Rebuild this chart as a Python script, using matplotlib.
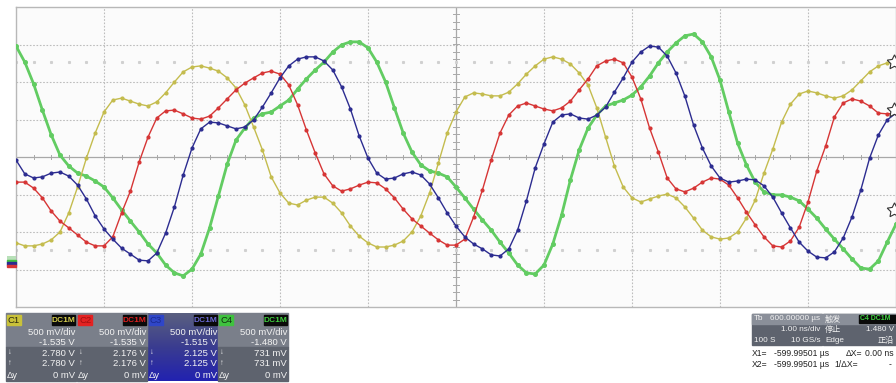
import numpy as np
import matplotlib
matplotlib.use("Agg")
import matplotlib.pyplot as plt
from matplotlib.patches import Rectangle
from matplotlib.colors import LinearSegmentedColormap

plt.rcParams['font.family'] = ['Liberation Sans', 'Noto Sans CJK SC', 'DejaVu Sans']

# ---- data: 10 GS/s, 1 ns/div, 101 samples, values in screen divisions ----
time_ns = np.round(np.arange(101) * 0.1 - 5.0, 1)

c1_div = [-2.29, -2.37, -2.37, -2.32, -2.21, -2.00, -1.49, -0.80, -0.03, 0.64,
          1.20, 1.52, 1.57, 1.49, 1.41, 1.36, 1.47, 1.71, 2.00, 2.27,
          2.40, 2.43, 2.37, 2.29, 2.11, 1.84, 1.39, 0.80, 0.19, -0.53,
          -0.96, -1.23, -1.28, -1.15, -1.07, -1.07, -1.23, -1.49, -1.84, -2.11,
          -2.29, -2.40, -2.40, -2.35, -2.24, -2.00, -1.57, -0.96, -0.16, 0.64,
          1.20, 1.60, 1.71, 1.68, 1.63, 1.63, 1.73, 1.95, 2.21, 2.43,
          2.61, 2.67, 2.61, 2.48, 2.24, 1.92, 1.31, 0.53, -0.24, -0.80,
          -1.09, -1.20, -1.12, -1.04, -0.99, -1.09, -1.33, -1.63, -1.95, -2.13,
          -2.19, -2.16, -2.00, -1.63, -1.15, -0.43, 0.21, 0.93, 1.41, 1.68,
          1.76, 1.71, 1.63, 1.57, 1.63, 1.79, 2.03, 2.27, 2.43, 2.51, 2.53]

c2_div = [-0.67, -0.67, -0.83, -1.09, -1.44, -1.71, -1.89, -2.08, -2.27, -2.37,
          -2.37, -2.13, -1.49, -0.91, -0.13, 0.53, 1.04, 1.23, 1.25, 1.15,
          1.04, 1.01, 1.09, 1.31, 1.55, 1.79, 1.97, 2.11, 2.24, 2.29,
          2.21, 1.92, 1.39, 0.72, 0.11, -0.45, -0.77, -0.91, -0.85, -0.75,
          -0.67, -0.69, -0.85, -1.09, -1.39, -1.65, -1.84, -2.03, -2.21, -2.35,
          -2.35, -2.19, -1.60, -0.88, -0.08, 0.64, 1.12, 1.36, 1.44, 1.36,
          1.28, 1.23, 1.31, 1.49, 1.79, 2.08, 2.43, 2.56, 2.61, 2.51,
          2.13, 1.55, 0.77, 0.13, -0.56, -0.85, -0.93, -0.83, -0.67, -0.56,
          -0.59, -0.75, -1.09, -1.47, -1.81, -2.13, -2.37, -2.40, -2.24, -1.87,
          -1.20, -0.37, 0.29, 1.07, 1.44, 1.55, 1.49, 1.36, 1.17, 1.15, 1.17]

c3_div = [-0.08, -0.45, -0.56, -0.53, -0.43, -0.40, -0.51, -0.75, -1.12, -1.57,
          -1.92, -2.19, -2.43, -2.59, -2.75, -2.77, -2.56, -2.03, -1.33, -0.48,
          0.24, 0.75, 0.93, 0.91, 0.83, 0.75, 0.80, 0.99, 1.33, 1.71,
          2.11, 2.43, 2.61, 2.67, 2.67, 2.56, 2.32, 1.87, 1.28, 0.56,
          -0.03, -0.43, -0.59, -0.56, -0.45, -0.40, -0.48, -0.72, -1.09, -1.49,
          -1.84, -2.13, -2.32, -2.45, -2.61, -2.64, -2.45, -1.95, -1.17, -0.29,
          0.35, 0.93, 1.12, 1.15, 1.04, 1.01, 1.12, 1.33, 1.73, 2.11,
          2.53, 2.80, 2.96, 2.93, 2.69, 2.24, 1.63, 0.85, 0.24, -0.24,
          -0.56, -0.67, -0.64, -0.59, -0.61, -0.77, -1.07, -1.49, -1.89, -2.27,
          -2.51, -2.67, -2.69, -2.53, -2.16, -1.60, -0.88, -0.03, 0.59, 0.99, 1.17]

c4_div = [2.96, 2.53, 1.95, 1.25, 0.59, 0.05, -0.24, -0.43, -0.51, -0.64,
          -0.80, -1.09, -1.41, -1.71, -2.00, -2.32, -2.56, -2.88, -3.09, -3.17,
          -2.99, -2.59, -1.89, -1.04, -0.19, 0.45, 0.77, 1.04, 1.15, 1.20,
          1.36, 1.52, 1.81, 2.08, 2.32, 2.53, 2.80, 2.99, 3.07, 3.07,
          2.91, 2.53, 2.00, 1.31, 0.64, 0.13, -0.21, -0.37, -0.43, -0.53,
          -0.80, -1.09, -1.39, -1.68, -1.95, -2.27, -2.56, -2.88, -3.09, -3.12,
          -2.88, -2.32, -1.55, -0.61, 0.19, 0.77, 1.12, 1.36, 1.44, 1.52,
          1.65, 1.87, 2.16, 2.51, 2.80, 3.04, 3.23, 3.28, 3.07, 2.67,
          2.05, 1.20, 0.37, -0.21, -0.67, -0.93, -1.01, -1.01, -1.07, -1.17,
          -1.39, -1.63, -1.92, -2.19, -2.45, -2.72, -2.96, -2.99, -2.77, -2.27, -1.79]

ch_names = ["C1", "C2", "C3", "C4"]
ch_scale = ["500 mV/div"] * 4
ch_offset = ["-1.535 V", "-1.535 V", "-1.515 V", "-1.480 V"]
ch_cur1 = ["2.780 V", "2.176 V", "2.125 V", "731 mV"]
ch_cur2 = ["2.780 V", "2.176 V", "2.125 V", "731 mV"]
ch_dy = ["0 mV"] * 4

tb_rows = ["600.00000 \u00b5s", "1.00 ns/div", "100 S", "10 GS/s"]
trig_rows = ["\u89e6\u53d1", "C4 DC1M", "\u505c\u6b62", "1.480 V", "Edge", "\u6b63\u6cbf"]
cursor_x1 = "-599.99501 \u00b5s"
cursor_x2 = "-599.99501 \u00b5s"
cursor_dx = "0.00 ns"
cursor_inv = "-"

colors = {"C1": "#c4bc4e", "C2": "#d63535", "C3": "#2c2c90", "C4": "#62cc62"}

W, H = 896, 383
fig = plt.figure(figsize=(W / 100, H / 100), dpi=100)
fig.patch.set_facecolor("white")

def fx(x):
    return x / W

def fy(y):
    return 1 - y / H

ax = fig.add_axes([fx(16), fy(307), (W - 16) / W, 300 / H])
ax.set_facecolor("#fbfbfb")
ax.set_xlim(-5, 5)
ax.set_ylim(-4, 4)
ax.set_xticks([])
ax.set_yticks([])
for s in ax.spines.values():
    s.set_color("#b8b8b8")
    s.set_linewidth(1.0)

# graticule
for xv in range(-4, 5):
    if xv == 0:
        continue
    ax.axvline(xv, color="#bdbdbd", lw=0.8, ls=(0, (1.5, 1.5)), zorder=1)
for yv in range(-3, 4):
    if yv == 0:
        continue
    ax.axhline(yv, color="#bdbdbd", lw=0.8, ls=(0, (1.5, 1.5)), zorder=1)
ax.axvline(0, color="#a8a8a8", lw=0.9, zorder=1)
ax.axhline(0, color="#a8a8a8", lw=0.9, zorder=1)
for yy in np.arange(-4, 4.01, 0.2):
    ax.plot([-0.035, 0.035], [yy, yy], color="#a8a8a8", lw=0.7, zorder=1)
for xx in np.arange(-5, 5.01, 0.2):
    ax.plot([xx, xx], [-0.05, 0.05], color="#a8a8a8", lw=0.7, zorder=1)
xd = np.arange(-5, 5.01, 0.2)
ax.plot(xd, np.full_like(xd, 2.53), ls="none", marker="s", ms=1.2, color="#d0d0d0", zorder=1)
ax.plot(xd, np.full_like(xd, -2.48), ls="none", marker="s", ms=1.2, color="#d0d0d0", zorder=1)

# traces
ax.plot(time_ns, c4_div, color=colors["C4"], lw=2.0, marker="o", ms=2.6, zorder=3)
ax.plot(time_ns, c1_div, color=colors["C1"], lw=1.0, marker="o", ms=2.0, zorder=4)
ax.plot(time_ns, c2_div, color=colors["C2"], lw=1.0, marker="o", ms=2.0, zorder=4)
ax.plot(time_ns, c3_div, color=colors["C3"], lw=1.0, marker="o", ms=2.0, zorder=5)

# trigger / level markers at right edge
for yv in [2.53, 1.25, -1.41]:
    ax.plot([4.98], [yv], marker=(5, 1, 0), ms=11, mfc="white", mec="#333333",
            mew=0.8, clip_on=True, zorder=6)

# channel marker at left
fig.patches.append(Rectangle((fx(7), fy(261)), 9 / W, 5 / H, transform=fig.transFigure,
                             facecolor="#b8e0b8", edgecolor="none", zorder=4))
for i, c in enumerate(["#40c040", "#2c2c90", "#d63535"]):
    fig.patches.append(Rectangle((fx(7), fy(262 + i * 2.5)), 9 / W, 2.5 / H,
                                 transform=fig.transFigure, color=c, zorder=5))

# ---- channel panels ----
panel_x = [6, 77, 148, 218]
panel_w = 70
fs = 6.8
txt = "#f2f2f2"
label_bg = {"C1": "#c9c23a", "C2": "#e32222", "C3": "#2f46c8", "C4": "#3fc23f"}
label_fg = {"C1": "#2a2a10", "C2": "#a01010", "C3": "#1a2a90", "C4": "#103010"}
dc_fg = {"C1": "#d8d050", "C2": "#e02020", "C3": "#6c6cd8", "C4": "#40d040"}

for k, name in enumerate(ch_names):
    x0 = panel_x[k]
    if name == "C3":
        grad = np.linspace(0, 1, 60).reshape(-1, 1)
        axg = fig.add_axes([fx(x0), fy(381), panel_w / W, 68 / H])
        cm = LinearSegmentedColormap.from_list("g", ["#2222b0", "#3a3c90", "#5a6080"])
        axg.imshow(grad, aspect="auto", cmap=cm, origin="lower", extent=[0, 1, 0, 1])
        axg.set_axis_off()
    else:
        fig.patches.append(Rectangle((fx(x0), fy(347)), panel_w / W, 34 / H,
                                     transform=fig.transFigure, color="#7a7f8a", zorder=0))
        fig.patches.append(Rectangle((fx(x0), fy(381)), panel_w / W, 34 / H,
                                     transform=fig.transFigure, color="#5e636e", zorder=0))
    fig.patches.append(Rectangle((fx(x0 + 1), fy(325)), 14 / W, 10 / H,
                                 transform=fig.transFigure, color=label_bg[name], zorder=2))
    fig.text(fx(x0 + 2), fy(320.5), name, fontsize=fs, color=label_fg[name],
             va="center", ha="left", zorder=3)
    fig.patches.append(Rectangle((fx(x0 + 46), fy(325)), 23 / W, 10 / H,
                                 transform=fig.transFigure, color="#0a0a0a", zorder=2))
    fig.text(fx(x0 + 57.5), fy(320.5), "DC1M", fontsize=6.0, color=dc_fg[name],
             va="center", ha="center", zorder=3, fontweight="bold")
    xr = x0 + 69
    fig.text(fx(xr), fy(332.5), ch_scale[k], fontsize=fs, color=txt, ha="right", va="center")
    fig.text(fx(xr), fy(342.5), ch_offset[k], fontsize=fs, color=txt, ha="right", va="center")
    fig.text(fx(xr), fy(353), ch_cur1[k], fontsize=fs, color=txt, ha="right", va="center")
    fig.text(fx(xr), fy(363.5), ch_cur2[k], fontsize=fs, color=txt, ha="right", va="center")
    fig.text(fx(xr), fy(375), ch_dy[k], fontsize=fs, color=txt, ha="right", va="center")
    fig.text(fx(x0 + 2), fy(353), "\u2193", fontsize=5.5, color=txt, ha="left", va="center")
    fig.text(fx(x0 + 2), fy(363.5), "\u2191", fontsize=5.5, color=txt, ha="left", va="center")
    fig.text(fx(x0 + 1), fy(375), "\u0394y", fontsize=fs, color=txt, ha="left", va="center")

# ---- timebase / trigger panel ----
fs2 = 5.9
cjk = ["Noto Sans CJK SC", "DejaVu Sans"]
fig.patches.append(Rectangle((fx(752), fy(345)), 70 / W, 31 / H,
                             transform=fig.transFigure, color="#5e636e", zorder=0))
fig.patches.append(Rectangle((fx(752), fy(324)), 70 / W, 10 / H,
                             transform=fig.transFigure, color="#8a8f99", zorder=1))
fig.text(fx(754), fy(319), "Tb", fontsize=fs2, color=txt, va="center")
fig.text(fx(820), fy(319), tb_rows[0], fontsize=fs2, color=txt, va="center", ha="right")
fig.text(fx(820), fy(329.5), tb_rows[1], fontsize=fs2, color=txt, va="center", ha="right")
fig.text(fx(754), fy(340), tb_rows[2], fontsize=fs2, color=txt, va="center")
fig.text(fx(820), fy(340), tb_rows[3], fontsize=fs2, color=txt, va="center", ha="right")

fig.patches.append(Rectangle((fx(823), fy(345)), 73 / W, 31 / H,
                             transform=fig.transFigure, color="#5e636e", zorder=0))
fig.patches.append(Rectangle((fx(823), fy(324)), 73 / W, 10 / H,
                             transform=fig.transFigure, color="#8a8f99", zorder=1))
fig.text(fx(825), fy(319), trig_rows[0], fontsize=fs2, color=txt, va="center", family=cjk)
fig.patches.append(Rectangle((fx(859), fy(323)), 37 / W, 8 / H,
                             transform=fig.transFigure, color="#0a0a0a", zorder=2))
fig.text(fx(860), fy(319), trig_rows[1], fontsize=5.0, color="#40d040", va="center",
         fontweight="bold", zorder=3)
fig.text(fx(825), fy(329.5), trig_rows[2], fontsize=fs2, color=txt, va="center", family=cjk)
fig.text(fx(894), fy(329.5), trig_rows[3], fontsize=fs2, color=txt, va="center", ha="right")
fig.text(fx(825), fy(340), trig_rows[4], fontsize=fs2, color=txt, va="center")
fig.text(fx(894), fy(340), trig_rows[5], fontsize=fs2, color=txt, va="center", ha="right",
         family=cjk)

fs3 = 6.2
dark = "#222222"
fig.text(fx(752), fy(353), "X1=", fontsize=fs3, color=dark, va="center")
fig.text(fx(829), fy(353), cursor_x1, fontsize=fs3, color=dark, va="center", ha="right")
fig.text(fx(846), fy(353), "\u0394X=", fontsize=fs3, color=dark, va="center")
fig.text(fx(865), fy(353), cursor_dx, fontsize=fs3, color=dark, va="center")
fig.text(fx(752), fy(364.5), "X2=", fontsize=fs3, color=dark, va="center")
fig.text(fx(829), fy(364.5), cursor_x2, fontsize=fs3, color=dark, va="center", ha="right")
fig.text(fx(834), fy(364.5), "1/\u0394X=", fontsize=fs3, color=dark, va="center")
fig.text(fx(889), fy(364.5), cursor_inv, fontsize=fs3, color=dark, va="center")

fig.savefig("out.png", dpi=100, facecolor="white")
